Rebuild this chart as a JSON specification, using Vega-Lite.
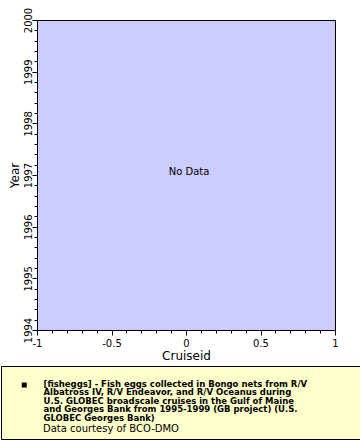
{
  "$schema": "https://vega.github.io/schema/vega-lite/v6.json",
  "width": 298,
  "height": 310,
  "autosize": "none",
  "padding": {"left": 37, "top": 20, "right": 25, "bottom": 110},
  "background": "white",
  "datasets": {
    "main": [
      {"cruiseid": 0, "year": 1997, "label": "No Data", "dataset": "fisheggs"}
    ]
  },
  "data": {"name": "main"},
  "layer": [
    {
      "mark": {"type": "text", "font": "DejaVu Sans", "fontSize": 10, "align": "center", "baseline": "alphabetic", "dx": 3},
      "encoding": {
        "x": {
          "field": "cruiseid", "type": "quantitative",
          "scale": {"domain": [-1, 1], "nice": false, "zero": false},
          "axis": {"orient": "bottom", "values": [-1, -0.5, 0, 0.5, 1], "labelExpr": "'' + datum.value", "tickSize": 5, "labelPadding": 3, "labelFlush": false, "title": "Cruiseid", "titlePadding": 2}
        },
        "y": {
          "field": "year", "type": "quantitative",
          "scale": {"domain": [1994, 2000], "nice": false, "zero": false},
          "axis": {"orient": "left", "values": [1994, 1995, 1996, 1997, 1998, 1999, 2000], "format": "d", "tickSize": 5, "labelAngle": 270, "labelAlign": "center", "labelBaseline": "alphabetic", "labelPadding": 1, "labelFlush": false, "title": "Year", "titlePadding": 2}
        },
        "text": {"field": "label"},
        "color": {
          "field": "dataset", "type": "nominal",
          "scale": {"range": ["#000000"]},
          "legend": {
            "orient": "none",
            "legendX": -36,
            "legendY": 346,
            "padding": 5,
            "fillColor": "#FFFFCC",
            "strokeColor": "#000000",
            "title": "Data courtesy of BCO-DMO",
            "titleOrient": "bottom",
            "titleAnchor": "start",
            "titleFont": "DejaVu Sans",
            "titleFontSize": 10,
            "titleFontWeight": "normal",
            "titleColor": "#000000",
            "titlePadding": 1.5,
            "labelExpr": "['', '[fisheggs] - Fish eggs collected in Bongo nets from R/V\u00a0\u2800\u2800\u2800\u2800\u2800\u2800\u2800', 'Albatross IV, R/V Endeavor, and R/V Oceanus during', 'U.S. GLOBEC broadscale cruises in the Gulf of Maine', 'and Georges Bank from 1995-1999 (GB project) (U.S.', 'GLOBEC Georges Bank)']",
            "labelFont": "DejaVu Sans",
            "labelFontSize": 8.5,
            "labelFontWeight": "bold",
            "labelColor": "#000000",
            "labelLimit": 600,
            "labelOffset": 15,
            "symbolOffset": 14,
            "symbolType": "M-1,2.9H1V4.9H-1Z",
            "symbolSize": 25,
            "symbolFillColor": "#000000",
            "symbolStrokeWidth": 0,
            "symbolOpacity": 1,
            "encoding": {
              "labels": {"lineHeight": {"value": 8.5}},
              "title": {"dx": {"value": 37}}
            }
          }
        }
      }
    },
    {
      "mark": {"type": "point", "opacity": 0, "size": 0},
      "encoding": {
        "x": {
          "field": "cruiseid", "type": "quantitative",
          "axis": {"orient": "bottom", "values": [-0.9, -0.8, -0.7, -0.6, -0.4, -0.3, -0.2, -0.1, 0.1, 0.2, 0.3, 0.4, 0.6, 0.7, 0.8, 0.9], "labels": false, "domain": false, "tickSize": 3, "title": null}
        },
        "y": {
          "field": "year", "type": "quantitative",
          "axis": {"orient": "left", "values": [1994.2, 1994.4, 1994.6, 1994.8, 1995.2, 1995.4, 1995.6, 1995.8, 1996.2, 1996.4, 1996.6, 1996.8, 1997.2, 1997.4, 1997.6, 1997.8, 1998.2, 1998.4, 1998.6, 1998.8, 1999.2, 1999.4, 1999.6, 1999.8], "labels": false, "domain": false, "tickSize": 3, "title": null}
        }
      }
    }
  ],
  "resolve": {"axis": {"x": "independent", "y": "independent"}},
  "config": {
    "view": {"fill": "#CCCCFF", "stroke": "#000000", "strokeWidth": 1},
    "axis": {
      "grid": false,
      "labelFont": "DejaVu Sans", "labelFontSize": 10, "labelColor": "#000000",
      "titleFont": "DejaVu Sans", "titleFontSize": 12, "titleFontWeight": "normal", "titleColor": "#000000",
      "domainColor": "#000000", "tickColor": "#000000"
    }
  }
}
